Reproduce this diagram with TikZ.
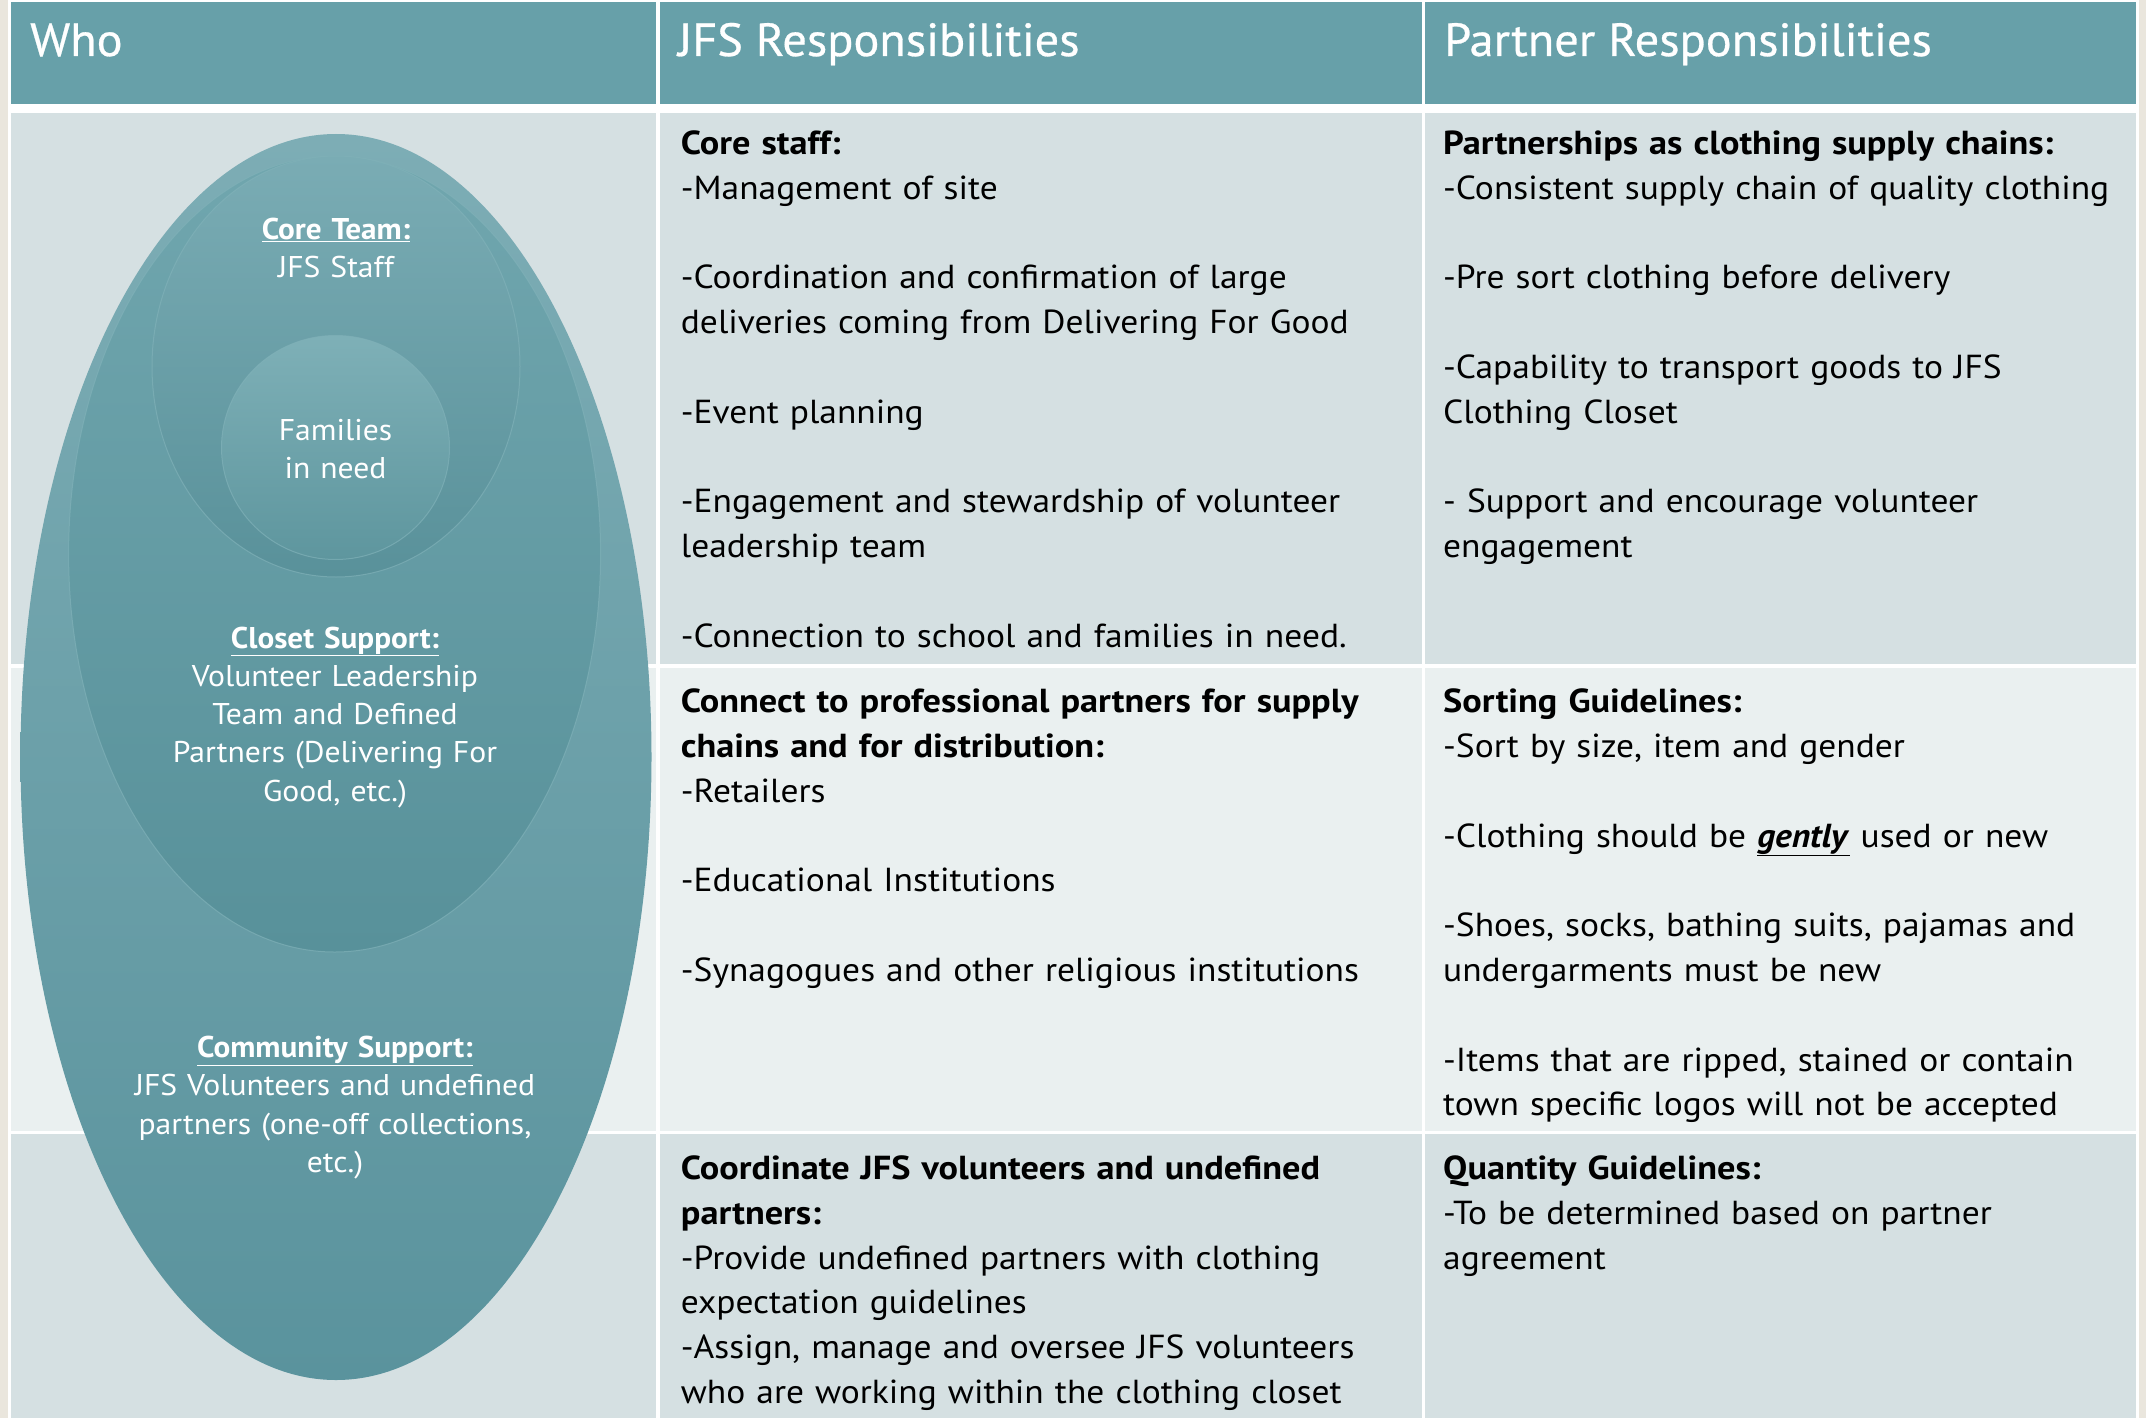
\documentclass[tikz,border=0pt]{standalone}
\usepackage{fontspec}
\setmainfont{PT Sans}
\newfontfamily\bodyfam[FakeStretch=1.065, BoldFeatures={FakeStretch=1.09}]{PT Sans}
\newfontfamily\ellfam[FakeStretch=1.055, BoldFeatures={FakeStretch=1.04}]{PT Sans}
\newfontfamily\headfam[FakeStretch=1.04, FakeBold=0.6]{PT Sans}
\definecolor{beige}{HTML}{EAE6DD}
\definecolor{headteal}{HTML}{67A0A9}
\definecolor{rowdark}{HTML}{D5E0E2}
\definecolor{rowlight}{HTML}{EAF0F0}
\definecolor{ellA}{HTML}{7DADB5}
\definecolor{ellB}{HTML}{5A939D}
\definecolor{midA}{HTML}{70A6AE}
\definecolor{midB}{HTML}{58919A}
\definecolor{coreA}{HTML}{7AACB4}
\definecolor{coreB}{HTML}{59919A}
\definecolor{famA}{HTML}{7EB0B7}
\definecolor{famB}{HTML}{5E969E}
\definecolor{ellline}{HTML}{80B1B8}
\tikzset{
  bodytext/.style={anchor=base west, inner sep=0pt, text width=780pt, align=left,
    font=\bodyfam\fontsize{33.3}{44.8}\selectfont, text=black},
  elltext/.style={anchor=base, inner sep=0pt, text width=540pt, align=center,
    font=\ellfam\fontsize{30}{38.3}\selectfont, text=white},
  headtext/.style={anchor=base west, inner sep=0pt, font=\headfam\fontsize{46.5}{50}\selectfont, text=white},
  ringline/.style={draw=ellline, draw opacity=0.7, line width=1pt},
}
\begin{document}
\begin{tikzpicture}[x=1pt,y=-1pt]
\useasboundingbox (0,0) rectangle (2146,1418);
% backgrounds
\fill[beige] (0,0) rectangle (2146,1418);
\fill[white] (8,0) rectangle (2139,1418);
% header cells
\fill[headteal] (10.7,1.7) rectangle (656,104);
\fill[headteal] (660,1.7) rectangle (1422,104);
\fill[headteal] (1425,1.7) rectangle (2136,104);
% row 1
\fill[rowdark] (10.7,113) rectangle (656,664);
\fill[rowdark] (660,113) rectangle (1422,664);
\fill[rowdark] (1425,113) rectangle (2136,664);
% row 2
\fill[rowlight] (10.7,668) rectangle (656,1131);
\fill[rowlight] (660,668) rectangle (1422,1131);
\fill[rowlight] (1425,668) rectangle (2136,1131);
% row 3
\fill[rowdark] (10.7,1134) rectangle (656,1418);
\fill[rowdark] (660,1134) rectangle (1422,1418);
\fill[rowdark] (1425,1134) rectangle (2136,1418);

% header texts
\node[headtext] (hwho) at (30,56) {Who};
\node[headtext] (hjfs) at (678,56) {JFS Responsibilities};
\node[headtext] (hpart) at (1444,56) {Partner Responsibilities};

% ellipses
\shade[top color=ellA, bottom color=ellB] (336,757) ellipse [x radius=315.5, y radius=623];
\shade[top color=midA, bottom color=midB, ringline] (334.6,554) ellipse [x radius=266, y radius=398];
\shade[top color=coreA, bottom color=coreB, ringline] (336,366.5) ellipse [x radius=184, y radius=210.5];
\shade[top color=famA, bottom color=famB, ringline] (335.5,447.5) ellipse [x radius=114, y radius=112];

% ellipse texts
\node[elltext] (core) at (336,239) {\underline{\textbf{Core Team:}}\\JFS Staff};
\node[elltext] (fam) at (335.5,440) {Families\\in need};
\node[elltext] (closet) at (335,648) {\underline{\textbf{Closet Support:}}\\Volunteer Leadership\\Team and Defined\\Partners (Delivering For\\Good, etc.)};
\node[elltext] (comm) at (335,1057.5) {\underline{\textbf{Community Support:}}\\JFS Volunteers and undefined\\partners (one-off collections,\\etc.)};

% body texts
\node[bodytext] (r1c2) at (680.7,154.3) {\textbf{Core staff:}\\
-Management of site\\[44.8pt]
-Coordination and confirmation of large\\
deliveries coming from Delivering For Good\\[44.8pt]
-Event planning\\[44.8pt]
-Engagement and stewardship of volunteer\\
leadership team\\[44.8pt]
-Connection to school and families in need.};

\node[bodytext] (r1c3) at (1443,154.3) {\textbf{Partnerships as clothing supply chains:}\\
-Consistent supply chain of quality clothing\\[44.8pt]
-Pre sort clothing before delivery\\[44.8pt]
-Capability to transport goods to JFS\\
Clothing Closet\\[44.8pt]
- Support and encourage volunteer\\
engagement};

\node[bodytext] (r2c2) at (680.7,712.7) {\textbf{Connect to professional partners for supply}\\
\textbf{chains and for distribution:}\\
-Retailers\\[44.8pt]
-Educational Institutions\\[44.8pt]
-Synagogues and other religious institutions};

\node[bodytext] (r2c3) at (1443,712.7) {\textbf{Sorting Guidelines:}\\
-Sort by size, item and gender\\[44.8pt]
-Clothing should be \underline{\textbf{\textit{gently}}} used or new\\[44.8pt]
-Shoes, socks, bathing suits, pajamas and\\
undergarments must be new\\[44.8pt]
-Items that are ripped, stained or contain\\
town specific logos will not be accepted};

\node[bodytext] (r3c2) at (680.7,1179.4) {\textbf{Coordinate JFS volunteers and undefined}\\
\textbf{partners:}\\
-Provide undefined partners with clothing\\
expectation guidelines\\
-Assign, manage and oversee JFS volunteers\\
who are working within the clothing closet};

\node[bodytext] (r3c3) at (1443,1179.4) {\textbf{Quantity Guidelines:}\\
-To be determined based on partner\\
agreement};
\end{tikzpicture}
\end{document}
